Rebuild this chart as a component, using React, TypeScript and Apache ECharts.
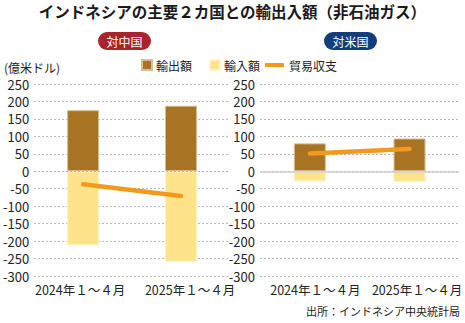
import React, { useEffect, useRef } from "react";
import * as echarts from "echarts";

const categories = ["2024年１～４月", "2025年１～４月"];
const chinaExports = [175, 188];
const chinaImports = [-212, -259];
const chinaBalance = [-37, -71];
const usExports = [80, 94];
const usImports = [-29, -30];
const usBalance = [51, 64];
const yMin = -300;
const yMax = 250;
const yStep = 50;

const EXPORT_COLOR = "#A87322";
const IMPORT_COLOR = "#FFE38A";
const BALANCE_COLOR = "#F29A1E";
const NUM_FONT = "'Liberation Sans Narrow', 'Noto Sans CJK JP', sans-serif";
const JP_FONT = "'Noto Sans CJK JP', sans-serif";

export default function App() {
  const ref = useRef<HTMLDivElement>(null);
  useEffect(() => {
    document.body.style.margin = "0";
    const chart = echarts.init(ref.current!, null, { renderer: "svg" });
    const yAxisBase = (gridIndex: number) => ({
      type: "value",
      gridIndex,
      min: yMin,
      max: yMax,
      interval: yStep,
      axisLine: { show: false },
      axisTick: { show: false },
      axisLabel: { fontFamily: NUM_FONT, fontSize: 13, color: "#222", margin: 5 },
      splitLine: { lineStyle: { type: [2, 2], color: "#b5b5b5", width: 1 } },
    });
    const labelStyle = (pad: number[]) => ({
      fontFamily: NUM_FONT,
      fontSize: 12.5,
      color: "#222",
      padding: pad,
    });
    const xAxisBase = (gridIndex: number) => ({
      type: "category",
      gridIndex,
      data: categories,
      axisLine: { show: false, onZero: false },
      axisTick: { show: false },
      axisLabel: {
        interval: 0,
        margin: 7,
        formatter: (v: string, i: number) => `{${gridIndex === 0 ? "l" : "r"}${i}|${v}}`,
        rich: {
          l0: labelStyle([0, 6, 0, 0]),
          l1: labelStyle([0, 0, 0, 18]),
          r0: labelStyle([0, 0, 0, 11]),
          r1: labelStyle([0, 0, 0, 15]),
        },
      },
    });
    const bars = (idx: number, exp: number[], imp: number[], zeroLine: any) => [
      {
        name: "輸出額",
        type: "bar",
        xAxisIndex: idx,
        yAxisIndex: idx,
        stack: "s" + idx,
        barWidth: 32,
        data: exp,
        itemStyle: { color: EXPORT_COLOR, borderColor: "#d9bf95", borderWidth: 1 },
        markLine: {
          silent: true,
          symbol: ["none", "none"],
          label: { show: false },
          lineStyle: zeroLine,
          data: [{ yAxis: 0 }],
          z: 4,
        },
      },
      {
        name: "輸入額",
        type: "bar",
        xAxisIndex: idx,
        yAxisIndex: idx,
        stack: "s" + idx,
        barWidth: 32,
        data: imp,
        itemStyle: { color: IMPORT_COLOR, borderColor: "#fff2c4", borderWidth: 1 },
      },
    ];
    const line = (idx: number, data: number[]) => ({
      name: "貿易収支",
      type: "line",
      xAxisIndex: idx,
      yAxisIndex: idx,
      data,
      symbol: "none",
      showSymbol: false,
      z: 5,
      lineStyle: { color: BALANCE_COLOR, width: 4.5, cap: "round" },
      itemStyle: { color: BALANCE_COLOR },
    });

    chart.setOption({
      animation: false,
      backgroundColor: "#fff",
      textStyle: { fontFamily: JP_FONT },
      grid: [
        { left: 31, right: 235, top: 84, bottom: 47 },
        { left: 260, right: 5, top: 84, bottom: 47 },
      ],
      xAxis: [xAxisBase(0), xAxisBase(1)],
      yAxis: [yAxisBase(0), yAxisBase(1)],
      legend: [
        {
          data: ["輸出額", "輸入額"],
          left: 136,
          top: 54,
          icon: "rect",
          itemWidth: 10,
          itemHeight: 10,
          itemGap: 17,
          textStyle: { fontSize: 12, color: "#222", fontFamily: JP_FONT, padding: [0, 0, 0, -1] },
        },
        {
          data: [{ name: "貿易収支", icon: "roundRect" }],
          left: 260,
          top: 54,
          itemWidth: 19,
          itemHeight: 4,
          textStyle: { fontSize: 12, color: "#222", fontFamily: JP_FONT },
        },
      ],
      series: [
        ...bars(0, chinaExports, chinaImports, { type: [2, 2], color: "#b5b5b5", width: 1 }),
        line(0, chinaBalance),
        ...bars(1, usExports, usImports, { type: "solid", color: "#cfcfcf", width: 1.5 }),
        line(1, usBalance),
      ],
      graphic: [
        {
          type: "text",
          left: "center",
          top: 3,
          style: {
            text: "インドネシアの主要２カ国との輸出入額（非石油ガス）",
            fontSize: 15.5,
            fontWeight: "bold",
            fill: "#1a1a1a",
            fontFamily: JP_FONT,
          },
        },
        {
          type: "group",
          left: 98,
          top: 32,
          children: [
            { type: "rect", shape: { x: 0, y: 0, width: 53, height: 18, r: 9 }, style: { fill: "#A8232B" } },
            {
              type: "text",
              x: 26.5,
              y: 9,
              style: { text: "対中国", fill: "#fff", fontSize: 12, align: "center", verticalAlign: "middle", fontFamily: JP_FONT },
            },
          ],
        },
        {
          type: "group",
          left: 324,
          top: 32,
          children: [
            { type: "rect", shape: { x: 0, y: 0, width: 53, height: 18, r: 9 }, style: { fill: "#123F7B" } },
            {
              type: "text",
              x: 26.5,
              y: 9,
              style: { text: "対米国", fill: "#fff", fontSize: 12, align: "center", verticalAlign: "middle", fontFamily: JP_FONT },
            },
          ],
        },
        {
          type: "text",
          left: 4,
          top: 61,
          style: { text: "(億米ドル)", fontSize: 12, fill: "#222", fontFamily: JP_FONT },
        },
        {
          type: "text",
          right: 5,
          top: 305,
          style: { text: "出所：インドネシア中央統計局", fontSize: 11, fill: "#222", fontFamily: JP_FONT },
        },
      ],
    });
    return () => chart.dispose();
  }, []);
  return <div ref={ref} style={{ position: "absolute", left: 0, top: 0, width: 465, height: 323 }} />;
}
